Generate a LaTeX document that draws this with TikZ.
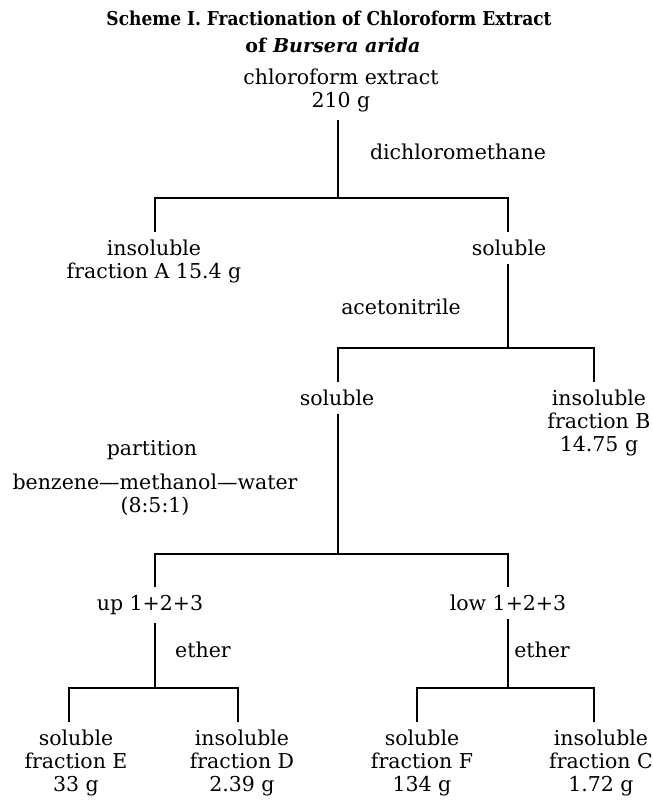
\documentclass[tikz,border=0pt]{standalone}
\usepackage{graphicx}
\usepackage{fontspec}
\setmainfont{DejaVu Serif}
\begin{document}
\begin{tikzpicture}[x=1pt,y=-1pt,
  lbl/.style={font=\fontsize{20.5}{23}\selectfont, align=center, inner xsep=0pt, inner ysep=8pt, anchor=north},
  side/.style={font=\fontsize{20.5}{23}\selectfont, align=center, inner sep=0pt, anchor=base},
  conn/.style={line width=1.3pt}]
\useasboundingbox (0,0) rectangle (653,801);
\fill[white] (0,0) rectangle (653,801);

% titles
\node[anchor=base, inner sep=0pt] (title) at (329,25)
  {\resizebox{445pt}{14.5pt}{\bfseries Scheme I. Fractionation of Chloroform Extract}};
\node[anchor=base, inner sep=0pt] (sub) at (333,52)
  {\resizebox{175pt}{14.5pt}{\bfseries of \itshape Bursera arida}};

% junction coordinates
\coordinate (j1) at (338,198);
\coordinate (a1) at (155,198);
\coordinate (b1) at (508,198);
\coordinate (j2) at (508,348);
\coordinate (a2) at (338,348);
\coordinate (b2) at (594,348);
\coordinate (j3) at (338,554);
\coordinate (a3) at (155,554);
\coordinate (b3) at (508,554);
\coordinate (j4) at (155,688);
\coordinate (a4) at (69,688);
\coordinate (b4) at (238,688);
\coordinate (j5) at (508,688);
\coordinate (a5) at (417,688);
\coordinate (b5) at (594,688);

% nodes
\node[lbl, anchor=south] (root) at (341,120) {chloroform extract\\210 g};
\node[side] (dcm) at (458,159) {dichloromethane};

\node[lbl] (insA) at (154,232) {insoluble\\fraction A 15.4 g};
\node[lbl] (sol1) at (509,232) {soluble};
\node[side] (acn) at (401,314) {acetonitrile};

\node[lbl] (sol2) at (337,382) {soluble};
\node[lbl] (insB) at (599,382) {insoluble\\fraction B\\14.75 g};

\node[side] (part) at (152,455) {partition};
\node[side, anchor=north] (bmw) at (155,474) {benzene—methanol—water\\(8:5:1)};

\node[lbl] (up) at (150,587) {up 1+2+3};
\node[lbl] (low) at (508,587) {low 1+2+3};

\node[side] (eth1) at (203,657) {ether};
\node[side] (eth2) at (542,657) {ether};

\node[lbl] (solE) at (76,722) {soluble\\fraction E\\33 g};
\node[lbl] (insD) at (242,722) {insoluble\\fraction D\\2.39 g};
\node[lbl] (solF) at (422,722) {soluble\\fraction F\\134 g};
\node[lbl] (insC) at (601,722) {insoluble\\fraction C\\1.72 g};

% connectors
\draw[conn] (root.south -| j1) -- (j1);
\draw[conn] (a1 |- insA.north) -- (a1) -- (b1) -- (b1 |- sol1.north);

\draw[conn] (sol1.south -| j2) -- (j2);
\draw[conn] (a2 |- sol2.north) -- (a2) -- (b2) -- (b2 |- insB.north);

\draw[conn] (sol2.south -| j3) -- (j3);
\draw[conn] (a3 |- up.north) -- (a3) -- (b3) -- (b3 |- low.north);

\draw[conn] (up.south -| j4) -- (j4);
\draw[conn] (a4 |- solE.north) -- (a4) -- (b4) -- (b4 |- insD.north);

\draw[conn] (low.south -| j5) -- (j5);
\draw[conn] (a5 |- solF.north) -- (a5) -- (b5) -- (b5 |- insC.north);
\end{tikzpicture}
\end{document}
